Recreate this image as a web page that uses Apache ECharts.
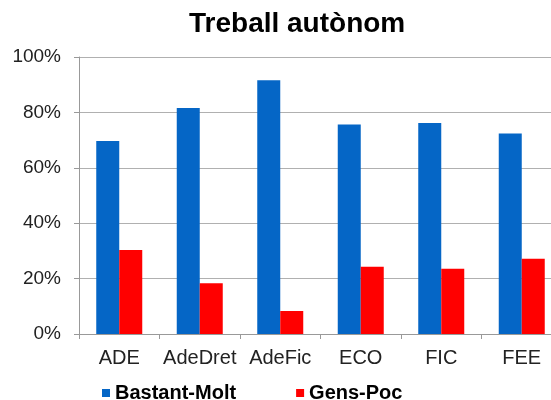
<!DOCTYPE html>
<html>
<head>
<meta charset="utf-8">
<script src="https://cdn.jsdelivr.net/npm/echarts@6/dist/echarts.min.js"></script>
<style>
  html, body { margin: 0; padding: 0; background: #fff; overflow: hidden; }
  /* plot area runs past the right edge in the reference, so the canvas is wider than the window */
  #chart { width: 562px; height: 400px; }
</style>
</head>
<body>
<div id="chart"></div>
<script>
const categories = ['ADE', 'AdeDret', 'AdeFic', 'ECO', 'FIC', 'FEE']
const bastantMolt = [69.7, 81.6, 91.6, 75.6, 76.2, 72.4]
const gensPoc = [30.3, 18.3, 8.3, 24.3, 23.6, 27.2]

const chart = echarts.init(document.getElementById('chart'))

chart.setOption({
  animation: false,
  textStyle: { fontFamily: 'Liberation Sans, Arial, sans-serif' },
  title: {
    text: 'Treball autònom',
    left: 184,
    top: 5,
    textStyle: { fontSize: 28, fontWeight: 'bold', color: '#000' },
  },
  legend: {
    left: 97,
    top: 378,
    icon: 'rect',
    itemWidth: 8,
    itemHeight: 8,
    itemGap: 60,
    textStyle: { fontSize: 20, fontWeight: 'bold', color: '#000' },
    data: ['Bastant-Molt', 'Gens-Poc'],
  },
  grid: { left: 79, top: 57, right: 0, height: 277 },
  xAxis: {
    type: 'category',
    data: categories,
    axisLine: { lineStyle: { color: '#999' } },
    axisTick: { show: true, length: 5, lineStyle: { color: '#999' } },
    axisLabel: { color: '#222', fontSize: 20, margin: 14, interval: 0 },
  },
  yAxis: {
    type: 'value',
    min: 0,
    max: 100,
    interval: 20,
    axisLine: { show: true, lineStyle: { color: '#999' } },
    axisTick: { show: true, length: 5, lineStyle: { color: '#999' } },
    axisLabel: { color: '#222', fontSize: 19, margin: 18, formatter: '{value}%' },
    splitLine: { lineStyle: { color: '#b0b0b0', width: 1 } },
  },
  series: [
    {
      name: 'Bastant-Molt',
      type: 'bar',
      data: bastantMolt,
      barWidth: 23,
      barGap: '0%',
      itemStyle: { color: '#0566c6' },
    },
    {
      name: 'Gens-Poc',
      type: 'bar',
      data: gensPoc,
      barWidth: 23,
      barGap: '0%',
      itemStyle: { color: '#ff0000' },
    },
  ],
})
</script>
</body>
</html>
